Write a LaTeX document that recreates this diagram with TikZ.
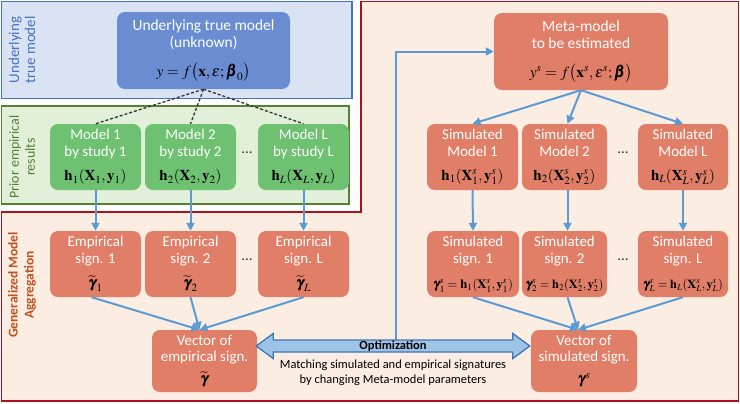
\documentclass[tikz,border=0pt]{standalone}
\usepackage{mathptmx}
\usepackage{bm}
\usepackage[no-math]{fontspec}
\setmainfont{Carlito}
\usetikzlibrary{arrows.meta,calc}
\definecolor{bpfill}{HTML}{DAE3F3}
\definecolor{bpdraw}{HTML}{4472C4}
\definecolor{gpfill}{HTML}{E2F0D9}
\definecolor{gpdraw}{HTML}{548235}
\definecolor{rpfill}{HTML}{FCEDE3}
\definecolor{rpdraw}{HTML}{B0101E}
\definecolor{nblue}{HTML}{6A8DD2}
\definecolor{ngreen}{HTML}{6DC170}
\definecolor{nred}{HTML}{E07E68}
\definecolor{arrc}{HTML}{5B9BD5}
\definecolor{optfill}{HTML}{9DC3E6}
\definecolor{optdraw}{HTML}{3E75B8}
\definecolor{gmacol}{HTML}{C0501E}
\begin{document}
\begin{tikzpicture}[x=1bp,y=-1bp,
  box/.style={rounded corners=8bp, minimum width=91bp, minimum height=66bp, inner sep=0pt,
    align=center, text=white, font=\fontsize{15}{17}\selectfont},
  bnode/.style={box, fill=nblue},
  gnode/.style={box, fill=ngreen},
  rnode/.style={box, fill=nred},
  arr/.style={draw=arrc, line width=2bp, -{Triangle[length=8bp,width=8bp]}},
  dashline/.style={draw=black!80, line width=1.3bp, dash pattern=on 3bp off 2bp},
  sidelabel/.style={rotate=90, align=center},
  dotnode/.style={font=\fontsize{15}{17}\selectfont, text=black!80},
  optarrow/.style={fill=optfill, draw=optdraw, line width=1.3bp, line join=miter}
]
\useasboundingbox (0,0) rectangle (740,403);
% panels
\draw[fill=rpfill, draw=rpdraw, line width=1.5bp] (361,1.5) -- (738.5,1.5) -- (738.5,401) -- (1.5,401) -- (1.5,212) -- (361,212) -- cycle;
\draw[fill=bpfill, draw=bpdraw, line width=1.5bp] (1.5,1.5) rectangle (352,98.5);
\draw[fill=gpfill, draw=gpdraw, line width=1.5bp] (1.5,106) rectangle (349,204);
% side labels
\node[sidelabel, text=bpdraw, font=\fontsize{15}{16}\selectfont] (lab1) at (22,50) {Underlying\\true model};
\node[sidelabel, text=gpdraw, font=\fontsize{14}{16}\selectfont] (lab2) at (22,157) {Prior empirical\\results};
\node[sidelabel, text=gmacol, font=\bfseries\fontsize{13.5}{16}\selectfont] (lab3) at (22,285) {Generalized Model\\Aggregation};
% left column
\node[bnode, minimum width=173bp, minimum height=77bp, font=\fontsize{15.5}{17}\selectfont] (true) at (203.5,50.5)
  {Underlying true model\\(unknown)\\[12bp]\color{black}$y=f\bigl(\mathbf{x},\varepsilon;\bm{\beta}_0\bigr)$};
\node[gnode] (m1) at (95.5,157) {Model 1\\by study 1\\[7bp]\color{black}$\mathbf{h}_1(\mathbf{X}_1,\mathbf{y}_1)$};
\node[gnode] (m2) at (190.5,157) {Model 2\\by study 2\\[7bp]\color{black}$\mathbf{h}_2(\mathbf{X}_2,\mathbf{y}_2)$};
\node[gnode] (mL) at (303.5,157) {Model L\\by study L\\[7bp]\color{black}$\mathbf{h}_L(\mathbf{X}_L,\mathbf{y}_L)$};
\node[rnode] (e1) at (95.5,264) {Empirical\\sign. 1\\[7bp]\color{black}$\widetilde{\bm{\gamma}}_1$};
\node[rnode] (e2) at (190.5,264) {Empirical\\sign. 2\\[7bp]\color{black}$\widetilde{\bm{\gamma}}_2$};
\node[rnode] (eL) at (303.5,264) {Empirical\\sign. L\\[7bp]\color{black}$\widetilde{\bm{\gamma}}_L$};
\node[rnode, minimum width=105bp, minimum height=62bp] (ev) at (204.5,361) {Vector of\\empirical sign.\\[5bp]\color{black}$\widetilde{\bm{\gamma}}$};
\node[dotnode] (d1) at (247,153) {\dots};
\node[dotnode] (d2) at (247,260) {\dots};
% right column
\node[rnode, minimum width=174bp, minimum height=77bp, font=\fontsize{15.5}{17}\selectfont] (meta) at (581,51.5)
  {Meta-model\\to be estimated\\[12bp]\color{black}$y^s=f\bigl(\mathbf{x}^s,\varepsilon^s;\bm{\beta}\bigr)$};
\node[rnode] (s1) at (472.5,157) {Simulated\\Model 1\\[7bp]\color{black}$\mathbf{h}_1(\mathbf{X}_1^s,\mathbf{y}_1^s)$};
\node[rnode, minimum width=85bp] (s2) at (564.5,157) {Simulated\\Model 2\\[7bp]\color{black}$\mathbf{h}_2(\mathbf{X}_2^s,\mathbf{y}_2^s)$};
\node[rnode, minimum width=90bp] (sL) at (683,157) {Simulated\\Model L\\[7bp]\color{black}$\mathbf{h}_L(\mathbf{X}_L^s,\mathbf{y}_L^s)$};
\node[rnode, minimum width=92bp] (g1) at (473,264) {Simulated\\sign. 1\\[8bp]\color{black}\resizebox{80bp}{!}{$\bm{\gamma}_1^s=\mathbf{h}_1(\mathbf{X}_1^s,\mathbf{y}_1^s)$}};
\node[rnode, minimum width=85bp] (g2) at (564.5,264) {Simulated\\sign. 2\\[8bp]\color{black}\resizebox{78bp}{!}{$\bm{\gamma}_2^s=\mathbf{h}_2(\mathbf{X}_2^s,\mathbf{y}_2^s)$}};
\node[rnode, minimum width=90bp] (gL) at (683,264) {Simulated\\sign. L\\[8bp]\color{black}\resizebox{80bp}{!}{$\bm{\gamma}_L^s=\mathbf{h}_L(\mathbf{X}_L^s,\mathbf{y}_L^s)$}};
\node[rnode, minimum width=106bp, minimum height=62bp] (sv) at (584,361) {Vector of\\simulated sign.\\[5bp]\color{black}$\bm{\gamma}^s$};
\node[dotnode] (d3) at (623,153) {\dots};
\node[dotnode] (d4) at (623,260) {\dots};
% dashed links
\draw[dashline] (true.south) -- (m1.north);
\draw[dashline] (true.south) -- (m2.north);
\draw[dashline] (true.south) -- (mL.north);
% arrows left
\draw[arr] (m1.south) -- (e1.north);
\draw[arr] (m2.south) -- (e2.north);
\draw[arr] (mL.south) -- (eL.north);
\coordinate (evin) at ($(ev.north)+(-5,0)$);
\draw[arr] ($(e1.south)+(-4,0)$) -- (evin);
\draw[arr] (e2.south) -- (evin);
\draw[arr] (eL.south) -- (evin);
% arrows right
\draw[arr] (meta.south) -- (s1.north);
\draw[arr] (meta.south) -- ($(s2.north)+(3,0)$);
\draw[arr] (meta.south) -- (sL.north);
\draw[arr] (s1.south) -- (g1.north);
\draw[arr] ($(s2.south)+(3,0)$) -- ($(g2.north)+(3,0)$);
\draw[arr] (sL.south) -- (gL.north);
\coordinate (svin) at ($(sv.north)+(-6,0)$);
\draw[arr] (g1.south) -- (svin);
\draw[arr] ($(g2.south)+(3,0)$) -- (svin);
\draw[arr] (gL.south) -- (svin);
% optimization double arrow
\coordinate (dl) at ($(ev.east)+(-1,-15)$);
\coordinate (dr) at ($(sv.west)+(-1,-15)$);
\coordinate (fb) at (396,340);
\draw[arr] (fb) |- (meta.west);
\draw[optarrow] (dl) -- ++(17,-12.5) -- ++(0,6.5) -- ($(dr)+(-17,-6)$) -- ++(0,-6.5) -- (dr)
  -- ++(-17,12.5) -- ++(0,-6.5) -- ($(dl)+(17,6)$) -- ++(0,6.5) -- cycle;
\node[font=\bfseries\fontsize{12.5}{14}\selectfont, text=black] (opt) at (393,346.5) {Optimization};
\node[align=center, font=\fontsize{12.5}{15}\selectfont, text=black] (optdesc) at (393,373)
  {Matching simulated and empirical signatures\\by changing Meta-model parameters};
\end{tikzpicture}
\end{document}
